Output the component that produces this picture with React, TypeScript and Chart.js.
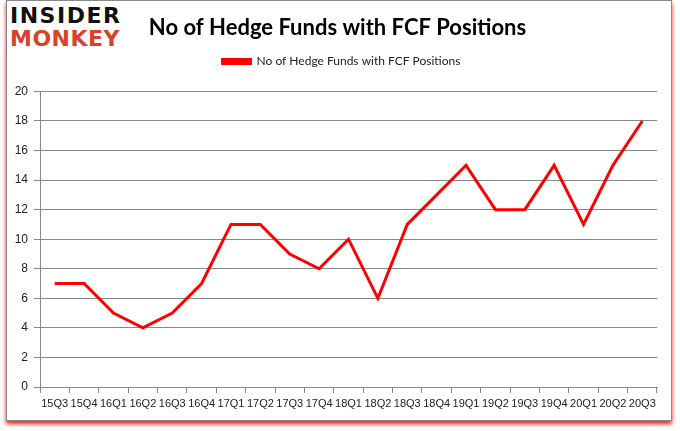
import React, { useEffect, useRef } from "react";
import { Chart, registerables } from "chart.js";

Chart.register(...registerables);

const categories = ["15Q3","15Q4","16Q1","16Q2","16Q3","16Q4","17Q1","17Q2","17Q3","17Q4","18Q1","18Q2","18Q3","18Q4","19Q1","19Q2","19Q3","19Q4","20Q1","20Q2","20Q3"];
const hedgeFunds = [7,7,5,4,5,7,11,11,9,8,10,6,11,13,15,12,12,15,11,15,18];
const seriesName = "No of Hedge Funds with FCF Positions";
const chartTitle = "No of Hedge Funds with FCF Positions";
const yMin = 0;
const yMax = 20;
const yStep = 2;

const headerShift = {
  id: "headerShift",
  beforeInit(chart: any) {
    const orig = chart.legend.fit;
    chart.legend.fit = function () {
      orig.call(this);
      this.height += 14;
    };
  },
  afterLayout(chart: any) {
    const t = chart.titleBlock;
    if (t) { t.left += 9; t.right += 9; }
    const l = chart.legend;
    if (l) { l.left += 13; l.right += 13; }
  },
};

export default function App() {
  const ref = useRef<HTMLCanvasElement | null>(null);
  useEffect(() => {
    document.body.style.margin = "0";
    const ctx = ref.current!.getContext("2d")!;
    const chart = new Chart(ctx, {
      type: "line",
      data: {
        labels: categories,
        datasets: [{
          label: seriesName,
          data: hedgeFunds,
          borderColor: "#ff0000",
          backgroundColor: "#ff0000",
          borderWidth: 3,
          pointRadius: 0,
          tension: 0,
        }],
      },
      plugins: [headerShift],
      options: {
        responsive: false,
        animation: false,
        layout: { padding: { left: 0, right: 23, top: 0, bottom: 12 } },
        plugins: {
          title: {
            display: true,
            text: chartTitle,
            color: "#000",
            font: { family: "Lato", size: 22, weight: "bold" },
            padding: { top: 15, bottom: 4 },
          },
          legend: {
            display: true,
            labels: {
              boxWidth: 28,
              boxHeight: 4,
              color: "#222",
              font: { family: "Lato", size: 12 },
              padding: 10,
            },
          },
          tooltip: { enabled: false },
        },
        scales: {
          x: {
            type: "category",
            offset: true,
            grid: { display: true, drawOnChartArea: false, drawTicks: true, tickLength: 6, color: "#888", offset: true },
            border: { display: true, color: "#888" },
            ticks: { autoSkip: false, maxRotation: 0, minRotation: 0, color: "#222", font: { family: "Liberation Sans", size: 11 }, padding: 4 },
            afterFit: (s: any) => { s.height = 32; },
          },
          y: {
            min: yMin,
            max: yMax,
            grid: { color: "#888", tickLength: 6 },
            border: { display: true, color: "#888" },
            ticks: { stepSize: yStep, color: "#222", font: { family: "Liberation Sans", size: 12 }, padding: 6 },
            afterFit: (s: any) => { s.width = 40; },
          },
        },
      },
    });
    return () => chart.destroy();
  }, []);

  return (
    <div style={{ position: "relative", width: 680, height: 431, background: "#fff", overflow: "hidden" }}>
      <div style={{ position: "absolute", left: 6, top: 0, width: 664, height: 419, border: "1px solid #888", boxShadow: "0 3px 4px rgba(255,0,0,0.9)", background: "#fff" }} />
      <div style={{ position: "absolute", left: 10, top: 5, fontFamily: "DejaVu Sans", fontWeight: 900, fontSize: 22, lineHeight: "22px", letterSpacing: 1.5, color: "#111" }}>INSIDER</div>
      <div style={{ position: "absolute", left: 10, top: 28, fontFamily: "DejaVu Sans", fontWeight: 900, fontSize: 22, lineHeight: "22px", letterSpacing: 0.5, color: "#d9412b" }}>MONKEY</div>
      <canvas ref={ref} width={680} height={431} style={{ position: "absolute", left: 0, top: 0 }} />
    </div>
  );
}
